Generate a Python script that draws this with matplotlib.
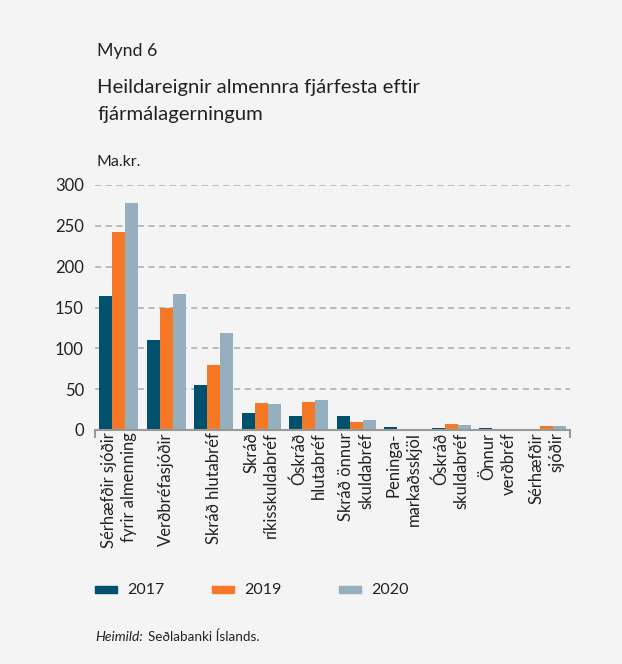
import matplotlib
matplotlib.use("Agg")
import matplotlib.pyplot as plt
import matplotlib.transforms as mtrans
import numpy as np

categories = ["Sérhæfðir sjóðir\nfyrir almenning", "Verðbréfasjóðir", "Skráð hlutabréf",
              "Skráð\nríkisskuldabréf", "Óskráð\nhlutabréf", "Skráð önnur\nskuldabréf",
              "Peninga-\nmarkaðsskjöl", "Óskráð\nskuldabréf", "Önnur\nverðbréf",
              "Sérhæfðir\nsjóðir"]
years = ["2017", "2019", "2020"]
v2017 = [164, 110, 55, 21, 17, 17, 3.7, 2.5, 2.5, 0.5]
v2019 = [242, 150, 80, 33, 34, 10, 0.6, 7.3, 0.6, 5]
v2020 = [278, 166, 119, 32, 36.5, 12, 0.3, 6, 0.3, 5]
yticks = [0, 50, 100, 150, 200, 250, 300]
colors = ["#00506e", "#f47826", "#95afbf"]

plt.rcParams['font.family'] = ['Lato', 'DejaVu Sans']
bg = "#f4f4f4"
txt = "#222222"
fig = plt.figure(figsize=(6.22, 6.64), dpi=100, facecolor=bg)
W, H = 622, 664
ax = fig.add_axes([95 / W, 1 - 430 / H, (570 - 95) / W, (430 - 185) / H])
ax.set_facecolor(bg)

x = np.arange(len(categories))
bw = 0.273
for i, (vals, c, lab) in enumerate(zip([v2017, v2019, v2020], colors, years)):
    ax.bar(x + (i - 1) * bw, vals, bw, color=c, label=lab, zorder=3)

ax.set_xlim(-0.5, len(categories) - 0.5)
ax.set_ylim(0, 300)
ax.set_yticks(yticks)
ax.set_yticklabels([str(t) for t in yticks], fontsize=12, color=txt)
for t in yticks[1:]:
    ax.axhline(t, color="#aaaaaa", lw=1.1, ls=(0, (4, 3)), zorder=1)
for s in ["top", "right", "left"]:
    ax.spines[s].set_visible(False)
ax.spines["bottom"].set_color("#999999")
ax.spines["bottom"].set_linewidth(1.5)
ax.spines["bottom"].set_zorder(4)
ax.tick_params(axis="y", length=0, pad=8)
ax.set_xticks([-0.5, len(categories) - 0.5])
ax.set_xticklabels(["", ""])
ax.tick_params(axis="x", length=6, width=1.5, color="#999999")

# category labels: each line placed separately, 20 px apart, right-aligned at the top
gap_pt = 20 * 72 / 100
for xi, lab in zip(x, categories):
    lines = lab.split("\n")
    n = len(lines)
    for j, line in enumerate(lines):
        off = (j - (n - 1) / 2) * gap_pt
        tr = mtrans.offset_copy(ax.transData, fig=fig, x=off, y=0, units="points")
        ax.text(xi, -3, line, rotation=90, ha="center", va="top", transform=tr,
                fontsize=12, color=txt)

fig.text(97 / W, 1 - 56 / H, "Mynd 6", fontsize=12.8, va="baseline", color=txt)
fig.text(97 / W, 1 - 93 / H, "Heildareignir almennra fjárfesta eftir",
         fontsize=14.6, va="baseline", color=txt)
fig.text(97 / W, 1 - 120 / H, "fjármálagerningum",
         fontsize=14.6, va="baseline", color=txt)
fig.text(97 / W, 1 - 162 / H, "Ma.kr.", fontsize=11.5, va="center", color=txt)

lx = [95, 212, 339]
for xx, c, lab in zip(lx, colors, years):
    fig.patches.append(matplotlib.patches.Rectangle((xx / W, 1 - 593 / H), 22 / W, 7 / H,
                       transform=fig.transFigure, color=c))
    fig.text((xx + 32) / W, 1 - 590 / H, lab, fontsize=11.5, va="center", color=txt)

fig.text(95 / W, 1 - 637 / H, "Heimild:", fontsize=10, style="italic", va="center", color=txt)
fig.text(148 / W, 1 - 637 / H, "Seðlabanki Íslands.", fontsize=9.7, va="center", color=txt)

fig.savefig("out.png", dpi=100, facecolor=bg)
